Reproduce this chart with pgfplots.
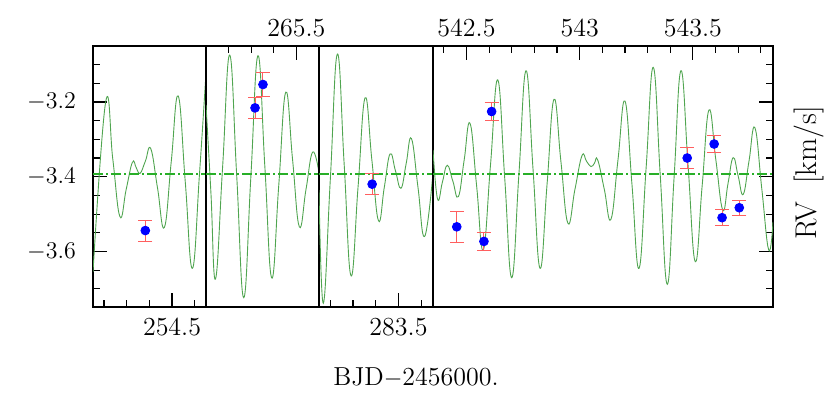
\documentclass[border=0pt]{standalone}
\usepackage{pgfplots}
\pgfplotsset{compat=1.18}
\definecolor{modelgreen}{RGB}{80,165,80}
\definecolor{meangreen}{RGB}{40,175,40}
\definecolor{errred}{RGB}{255,95,95}

\pgfplotsset{
  rvpanel/.style={
    scale only axis, height=130.5pt, anchor=south west,
    ymin=-3.7484, ymax=-3.0505,
    axis line style={line width=1pt},
    major tick length=7pt, minor tick length=3.5pt,
    every tick/.style={black, line width=0.6pt},
    tick label style={font=\fontsize{13}{13}\selectfont},
    xticklabel style={yshift=-2pt},
    ytick=\empty,
  },
  ypanel/.style={
    ytick={-3.6,-3.4,-3.2},
    minor ytick={-3.7,-3.65,-3.55,-3.5,-3.45,-3.35,-3.3,-3.25,-3.15,-3.1},
  },
  model/.style={modelgreen, line width=0.45pt, smooth, tension=0.75, no marks},
  mean/.style={meangreen, line width=1.1pt, no marks,
    dash pattern=on 5pt off 1.5pt on 1pt off 1.5pt},
  rv/.style={only marks, mark=*, mark size=2.2pt,
    mark options={draw=blue, fill=blue},
    error bars/.cd, y dir=both, y explicit,
    error bar style={errred, line width=0.5pt},
    error mark options={rotate=90, errred, mark size=3.5pt, line width=0.5pt}},
}

\begin{document}
\begin{tikzpicture}
\useasboundingbox (0,0) rectangle (415pt,205.5pt);

% panel 1
\begin{axis}[rvpanel, ypanel, at={(46.5pt,52pt)}, width=56.5pt,
  xmin=254.151, xmax=254.650,
  xtick={254.5}, xticklabels={254.5}, minor xtick={254.2,254.3,254.4,254.6},
  xtick pos=left, ytick pos=left,
  yticklabel style={xshift=-5pt}]
  \addplot[model] coordinates {
    (254.151,-3.655) (254.207,-3.200) (254.2385,-3.3535) (254.270,-3.507)
    (254.2975,-3.434) (254.325,-3.3615) (254.342,-3.376) (254.359,-3.391)
    (254.3825,-3.358) (254.406,-3.325) (254.436,-3.4305) (254.466,-3.536)
    (254.4965,-3.360) (254.527,-3.184) (254.5585,-3.4145) (254.590,-3.645)
    (254.6215,-3.390) (254.650,-3.123)};
  \addplot[mean] coordinates {(254.151,-3.393) (254.650,-3.393)};
  \addplot[rv] coordinates {(254.382,-3.544) +- (0,0.028)};
\end{axis}

% panel 2
\begin{axis}[rvpanel, at={(103pt,52pt)}, width=56.5pt,
  xmin=265.1, xmax=265.6,
  xtick={265.5}, xticklabels={265.5}, minor xtick={265.2,265.3,265.4},
  xtick pos=right, xticklabel pos=right,
  xticklabel style={yshift=3pt}]
  \addplot[model] coordinates {
    (265.100,-3.208) (265.1215,-3.440) (265.142,-3.6735) (265.1735,-3.374)
    (265.205,-3.0746) (265.236,-3.399) (265.267,-3.7235) (265.2985,-3.400)
    (265.330,-3.0765) (265.3605,-3.374) (265.391,-3.671) (265.422,-3.4225)
    (265.453,-3.174) (265.483,-3.354) (265.513,-3.534) (265.5425,-3.434)
    (265.572,-3.334) (265.600,-3.390)};
  \addplot[mean] coordinates {(265.1,-3.393) (265.6,-3.393)};
  \addplot[rv] coordinates {(265.317,-3.216) +- (0,0.029)
                            (265.352,-3.1535) +- (0,0.033)};
\end{axis}

% panel 3
\begin{axis}[rvpanel, at={(159.5pt,52pt)}, width=57pt,
  xmin=283.150, xmax=283.652,
  xtick={283.5}, xticklabels={283.5}, minor xtick={283.2,283.3,283.4,283.6},
  xtick pos=left]
  \addplot[model] coordinates {
    (283.150,-3.4356) (283.169,-3.7385) (283.200,-3.405) (283.231,-3.072)
    (283.261,-3.3685) (283.291,-3.665) (283.322,-3.427) (283.353,-3.189)
    (283.3825,-3.3535) (283.412,-3.518) (283.4375,-3.4285) (283.463,-3.339)
    (283.487,-3.385) (283.511,-3.431) (283.534,-3.3645) (283.557,-3.298)
    (283.586,-3.429) (283.615,-3.560) (283.652,-3.390)};
  \addplot[mean] coordinates {(283.150,-3.393) (283.652,-3.393)};
  \addplot[rv] coordinates {(283.384,-3.420) +- (0,0.0286)};
\end{axis}

% panel 4
\begin{axis}[rvpanel, ypanel, at={(216.5pt,52pt)}, width=170pt,
  xmin=542.352, xmax=543.854,
  xtick={542.5,543,543.5}, xticklabels={542.5,543,543.5},
  minor xtick={542.4,542.6,542.7,542.8,542.9,543.1,543.2,543.3,543.4,543.6,543.7,543.8},
  xtick pos=right, xticklabel pos=right, ytick pos=right, yticklabels={},
  xticklabel style={yshift=3pt}]
  \addplot[model] coordinates {
    (542.352,-3.3286) (542.372,-3.4596) (542.3935,-3.4146) (542.415,-3.3695)
    (542.4395,-3.4115) (542.464,-3.4535) (542.48975,-3.355) (542.5155,-3.257)
    (542.545,-3.4265) (542.574,-3.596) (542.606,-3.3685) (542.638,-3.141)
    (542.669,-3.4055) (542.700,-3.670) (542.7315,-3.3933) (542.763,-3.1166)
    (542.794,-3.381) (542.825,-3.645) (542.856,-3.419) (542.8865,-3.193)
    (542.917,-3.359) (542.948,-3.5246) (542.979,-3.434) (543.010,-3.344)
    (543.030,-3.3585) (543.050,-3.373) (543.065,-3.364) (543.0795,-3.355)
    (543.109,-3.4345) (543.138,-3.514) (543.169,-3.356) (543.200,-3.1976)
    (543.231,-3.421) (543.262,-3.645) (543.2935,-3.376) (543.325,-3.1075)
    (543.356,-3.3976) (543.387,-3.6877) (543.417,-3.402) (543.4474,-3.1166)
    (543.479,-3.372) (543.5106,-3.6273) (543.541,-3.4245) (543.571,-3.2217)
    (543.6015,-3.355) (543.632,-3.489) (543.655,-3.419) (543.678,-3.349)
    (543.700,-3.398) (543.7226,-3.447) (543.748,-3.358) (543.774,-3.269)
    (543.8045,-3.4325) (543.835,-3.596) (543.854,-3.521)};
  \addplot[mean] coordinates {(542.352,-3.393) (543.854,-3.393)};
  \addplot[rv] coordinates {
    (542.457,-3.534) +- (0,0.042)
    (542.577,-3.573) +- (0,0.023)
    (542.611,-3.2257) +- (0,0.023)
    (543.475,-3.350) +- (0,0.0276)
    (543.594,-3.3126) +- (0,0.022)
    (543.629,-3.5096) +- (0,0.022)
    (543.705,-3.483) +- (0,0.020)};
\end{axis}

\node[font=\fontsize{13}{13}\selectfont] at (208pt,16.5pt) {BJD$-$2456000.};
\node[rotate=90, font=\fontsize{15}{15}\selectfont] at (404.5pt,119pt) {RV\ \ [km/s]};
\end{tikzpicture}
\end{document}
